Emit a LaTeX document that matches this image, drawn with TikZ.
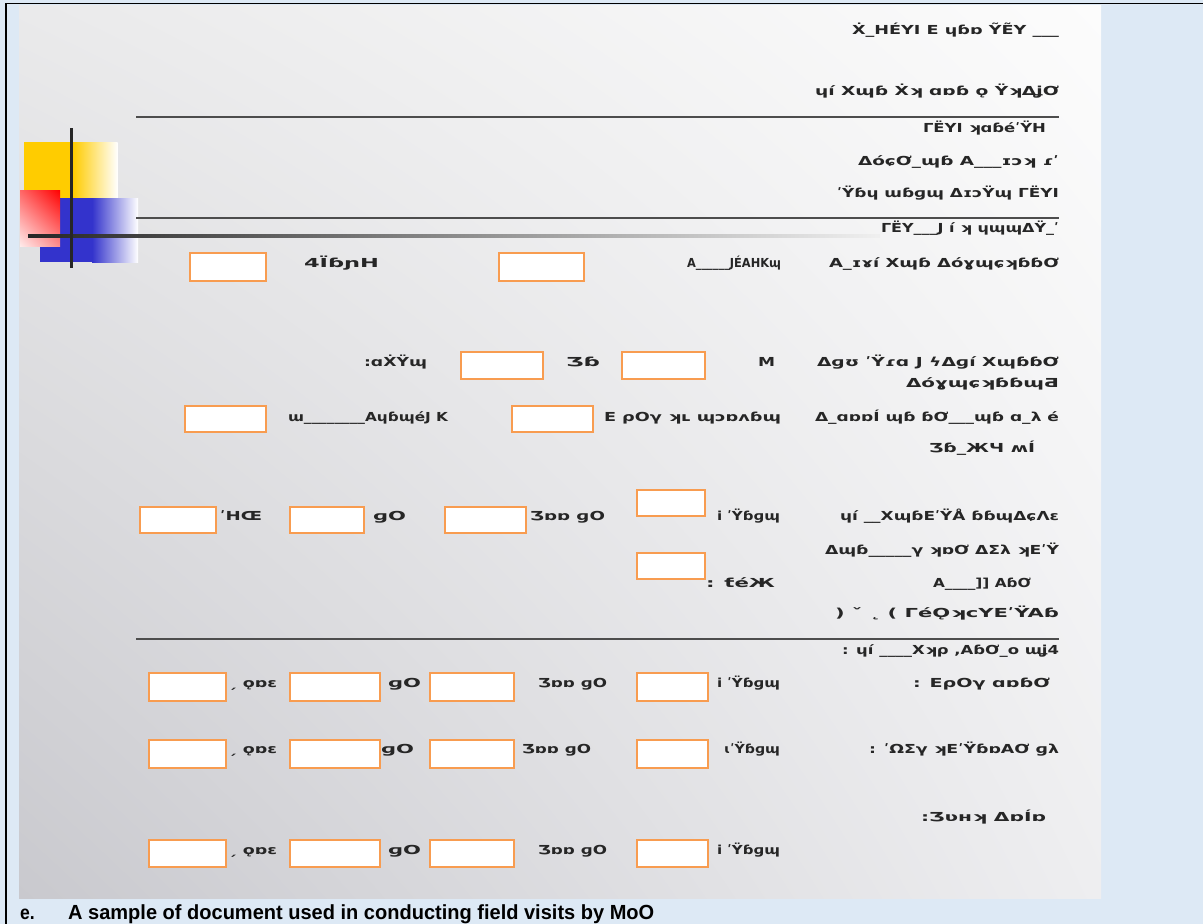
\documentclass[tikz,border=0pt]{standalone}
\usepackage{fontspec}
\usepackage{graphicx}
\usetikzlibrary{shadings}
\setmainfont{Liberation Sans}
\newfontfamily\dvs{DejaVu Sans}
\definecolor{pagebg}{HTML}{DDE9F5}
\definecolor{boxor}{HTML}{F89C50}
\definecolor{rulec}{HTML}{4D4D4D}
\definecolor{yel}{HTML}{FFCC00}
\definecolor{blu}{HTML}{3333CC}
\definecolor{slUL}{HTML}{EAEAEB}
\definecolor{slUR}{HTML}{FCFCFC}
\definecolor{slLL}{HTML}{C9C9CE}
\definecolor{slLR}{HTML}{EEEEF0}
\tikzset{
  fbox/.style={draw=boxor, fill=white, line width=2.8pt, inner sep=0pt, outer sep=0pt, anchor=north west},
  gtxt/.style={anchor=base west, inner sep=0pt, outer sep=0pt, font=\dvs\bfseries, text=black!85},
  sliderule/.style={draw=rulec, line width=2.2pt},
}
% box: name, x1, y1, x2, y2
\newcommand{\fbx}[5]{\node[fbox, minimum width={(#4-#2)*1pt}, minimum height={(#5-#3)*1pt}] (#1) at (#2,#3) {};}
% garbled text: name, x1, x2, ycenter, text
\newcommand{\gtx}[5]{\pgfmathsetlengthmacro\gtw{(#3-#2)*1pt}\node[gtxt] (#1) at (#2,#4+4.6) {\resizebox{\gtw}{12.4pt}{\rule{0pt}{10pt}#5}};}
\begin{document}
\begin{tikzpicture}[x=1pt,y=-1pt]
\useasboundingbox (0,0) rectangle (1203,924);
\fill[pagebg] (0,0) rectangle (1203,924);
\shade[upper left=slUL, upper right=slUR, lower left=slLL, lower right=slLR] (19,5) rectangle (1101,898);
\draw[line width=1.6pt] (5,3.4) -- (1203,3.4);
\draw[line width=2pt] (5.7,3) -- (5.7,924);
% logo
\fill[yel] (24,142) rectangle (73,198);
\shade[left color=yel, right color=white] (73,142) rectangle (117.5,198);
\fill[blu] (40,198) rectangle (92,262);
\shade[left color=blu, right color=white] (92,198) rectangle (138,262);
\shade[upper left=red!60, upper right=red, lower left=red!8, lower right=red!45] (20,190) rectangle (60,246);
\shade[left color=black!85, right color=black!6] (28,234.9) rectangle (880,237.3);
\draw[line width=2.3pt, black!85] (71.6,128) -- (71.6,268);
% rules
\draw[sliderule] (136,116.7) -- (1059,116.7);
\draw[sliderule] (136,218) -- (1059,218);
\draw[sliderule] (136,639) -- (1059,639);
% header lines
\gtx{l1}{852}{1059}{30}{Ẋ\_HÉYI  E ɥɓɒ ỸẼY \_\_\_}
\gtx{l2}{815}{1059}{91}{ɥí Xɰɓ Ẋʞ ɑɒɓ  ǫ ŸʞΔʝƠ}
\gtx{l3}{923}{1046}{128}{ГËYI ʞɑɓéʹŸH}
\gtx{l4}{858}{1059}{161}{ΔóɕƠ\_ɰɓ A\_\_\_ɪɔʞ ɾʹ}
\gtx{l5}{837}{1059}{193}{ʹŸɓɥ  ɯɓɡɰ   ΔɪɔŸɰ ГËYI}
\gtx{l6}{881}{1059}{228}{ГËY\_\_\_J í ʞ ɥɰɰΔŸ\_ʹ}
% row 7
\fbx{b1}{190}{253}{266}{281}
\gtx{r7a}{304}{379}{263}{4ЇɓɲH}
\fbx{b2}{499}{253}{584}{281}
\gtx{r7b}{687}{781}{263}{A\_\_\_\_\_\_JÉAHKɰ}
\gtx{r7c}{829}{1059}{263}{A\_ɪɤí Xɰɓ ΔóɣɰɕʞɓɓƠ}
% row 8
\gtx{r8a}{364}{427}{362}{:ɑẊŸɰ}
\fbx{b3}{461}{352}{543}{379}
\gtx{r8b}{566}{600}{362}{Ʒɓ}
\fbx{b4}{622}{352}{705}{379}
\gtx{r8c}{758}{775}{362}{M}
\gtx{r8d}{817}{1059}{362}{Δɡʊ ʹŸɾɑ J ϟΔɡí XɰɓɓƠ}
\gtx{r8e}{906}{1059}{383}{ΔóɣɰɕʞɓɓɰƋ}
% row 9
\fbx{b5}{185}{406}{266}{432}
\gtx{r9a}{288}{448}{417}{ɯ\_\_\_\_\_\_\_\_AɥɓɰéJ K}
\fbx{b6}{512}{406}{593}{432}
\gtx{r9b}{604}{781}{417}{E ρOγ ʞʟ ɰɔɒʌɓɰ}
\gtx{r9c}{815}{1059}{417}{Δ\_ɑɒɒÍ ɰɓ ɓƠ\_\_\_ɰɓ ɑ\_λ é}
\gtx{r9d}{929}{1035}{448}{Ʒɓ\_ЖЧ ʍÍ}
% row 10
\fbx{b7}{140}{507}{216}{533}
\gtx{r10a}{220}{262}{516}{ʹHŒ}
\fbx{b8}{290}{507}{364}{533}
\gtx{r10b}{373}{406}{516}{ɡO}
\fbx{b9}{445}{507}{526}{533}
\gtx{r10c}{530}{605}{516}{Ʒɒɒ ɡO}
\fbx{b10}{637}{490}{705}{516}
\gtx{r10d}{717}{780}{516}{i ʹŸɓɡɰ}
\gtx{r10e}{840}{1059}{516}{ɥí \_\_XɰɓEʹŸÅ ɓɓɰΔɕɅɛ}
% rows 11-14
\gtx{r11}{825}{1059}{550}{Δɰɓ\_\_\_\_\_γ ʞɒƠ  ΔΣλ ʞEʹŸ}
\fbx{b11}{637}{553}{705}{579}
\gtx{r12a}{706}{775}{583}{:  ƭéЖ}
\gtx{r12b}{933}{1031}{583}{A\_\_\_\_]] AɓƠ}
\gtx{r13}{835}{1059}{613}{) ˇ ˛ (  ГéǪʞcYEʹŸAɓ}
\gtx{r14}{842}{1059}{650}{: ɥí \_\_\_\_Xʞρ ,AɓƠ\_o  ɯʝ4}
% row A
\fbx{ba1}{149}{673}{226}{701}
\gtx{ra1}{228}{277}{683}{ˏ ǫɒɛ}
\fbx{ba2}{290}{673}{380}{701}
\gtx{ra2}{388}{421}{683}{ɡO}
\fbx{ba3}{430}{673}{514}{701}
\gtx{ra3}{538}{607}{683}{Ʒɒɒ ɡO}
\fbx{ba4}{637}{673}{708}{701}
\gtx{ra4}{717}{780}{683}{i ʹŸɓɡɰ}
\gtx{ra5}{913}{1050}{683}{: EρOγ  ɑɒɓƠ}
% row B
\fbx{bb1}{149}{740}{226}{768}
\gtx{rb1}{228}{277}{749}{ˏ ǫɒɛ}
\fbx{bb2}{290}{740}{380}{768}
\gtx{rb2}{381}{414}{749}{ɡO}
\fbx{bb3}{430}{740}{514}{768}
\gtx{rb3}{522}{591}{749}{Ʒɒɒ ɡO}
\fbx{bb4}{637}{740}{708}{768}
\gtx{rb4}{724}{780}{749}{ɩʹŸɓɡɰ}
\gtx{rb5}{869}{1059}{749}{: ʹΩΣγ ʞEʹŸɓɒAƠ ɡλ}
\gtx{r817}{921}{1046}{817}{:Ʒʋʜʞ ΔɒÍɒ}
% row C
\fbx{bc1}{149}{840}{226}{867}
\gtx{rc1}{228}{277}{850}{ˏ ǫɒɛ}
\fbx{bc2}{290}{840}{380}{867}
\gtx{rc2}{388}{421}{850}{ɡO}
\fbx{bc3}{430}{840}{514}{867}
\gtx{rc3}{538}{607}{850}{Ʒɒɒ ɡO}
\fbx{bc4}{637}{840}{708}{867}
\gtx{rc4}{717}{780}{850}{i ʹŸɓɡɰ}
% caption
\node[anchor=base west, inner sep=0pt, font=\fontsize{19.5}{20}\selectfont\bfseries] (capE) at (20,919) {\scalebox{0.9}[1]{e.}};
\node[anchor=base west, inner sep=0pt, font=\fontsize{19.5}{20}\selectfont\bfseries] (capT) at (68,919) {\resizebox{586pt}{14.8pt}{A sample of document used in conducting field visits by MoO}};
\end{tikzpicture}
\end{document}
